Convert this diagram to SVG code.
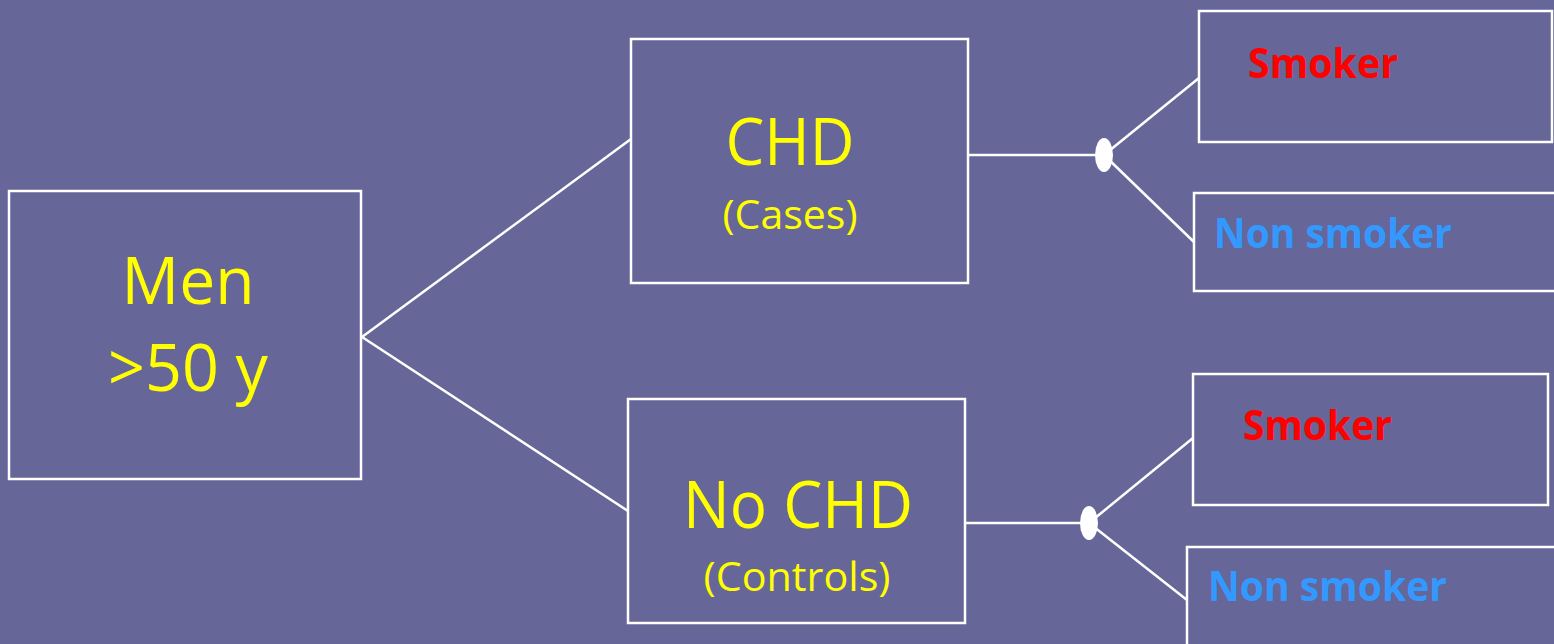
<svg xmlns="http://www.w3.org/2000/svg" width="1554" height="644" viewBox="0 0 1554 644">
<style>
.box{fill:none;stroke:#ffffff;stroke-width:2.5}
.ln{fill:none;stroke:#ffffff;stroke-width:2.5}
.big{font-family:"Open Sans","Noto Sans",sans-serif;font-size:65px;fill:#ffff00;text-anchor:middle}
.sub{font-family:"Open Sans","Noto Sans",sans-serif;font-size:41px;fill:#ffff00;text-anchor:middle}
.sm{font-family:"Open Sans","Noto Sans",sans-serif;font-size:42px;font-weight:bold;fill:#ff0000}
.ns{font-family:"Open Sans","Noto Sans",sans-serif;font-size:42px;font-weight:bold;fill:#3399ff}
</style>
<rect x="0" y="0" width="1554" height="644" fill="#666699"/>
<g id="connectors">
<line class="ln" x1="362" y1="337" x2="631" y2="139"/>
<line class="ln" x1="362" y1="337" x2="628" y2="511"/>
<line class="ln" x1="968" y1="155" x2="1104" y2="155"/>
<line class="ln" x1="1104" y1="155" x2="1199" y2="78"/>
<line class="ln" x1="1104" y1="155" x2="1194" y2="242"/>
<ellipse cx="1104" cy="155" rx="9" ry="17" fill="#ffffff"/>
<line class="ln" x1="965" y1="523" x2="1089" y2="523"/>
<line class="ln" x1="1089" y1="523" x2="1193" y2="438"/>
<line class="ln" x1="1089" y1="523" x2="1187" y2="600"/>
<ellipse cx="1089" cy="523" rx="9" ry="17" fill="#ffffff"/>
</g>
<g id="men">
<rect class="box" x="9" y="191" width="352" height="288"/>
<text class="big" x="188" y="304" textLength="133" lengthAdjust="spacingAndGlyphs">Men</text>
<text class="big" x="188" y="391" textLength="160" lengthAdjust="spacingAndGlyphs">&gt;50 y</text>
</g>
<g id="chd">
<rect class="box" x="631" y="39" width="337" height="244"/>
<text class="big" x="790" y="165" textLength="129" lengthAdjust="spacingAndGlyphs">CHD</text>
<text class="sub" x="790" y="229" textLength="135" lengthAdjust="spacingAndGlyphs">(Cases)</text>
</g>
<g id="nochd">
<rect class="box" x="628" y="399" width="337" height="224"/>
<text class="big" x="798" y="528" textLength="230" lengthAdjust="spacingAndGlyphs">No CHD</text>
<text class="sub" x="797" y="591" textLength="187" lengthAdjust="spacingAndGlyphs">(Controls)</text>
</g>
<g id="smoker1">
<rect class="box" x="1199" y="11" width="353" height="131"/>
<text class="sm" x="1248" y="78" textLength="150" lengthAdjust="spacingAndGlyphs">Smoker</text>
</g>
<g id="nonsmoker1">
<rect class="box" x="1194" y="193" width="362" height="98"/>
<text class="ns" x="1214" y="248" textLength="238" lengthAdjust="spacingAndGlyphs">Non smoker</text>
</g>
<g id="smoker2">
<rect class="box" x="1193" y="374" width="355" height="131"/>
<text class="sm" x="1243" y="440" textLength="149" lengthAdjust="spacingAndGlyphs">Smoker</text>
</g>
<g id="nonsmoker2">
<rect class="box" x="1187" y="547" width="370" height="100"/>
<text class="ns" x="1208" y="601" textLength="239" lengthAdjust="spacingAndGlyphs">Non smoker</text>
</g>
</svg>
